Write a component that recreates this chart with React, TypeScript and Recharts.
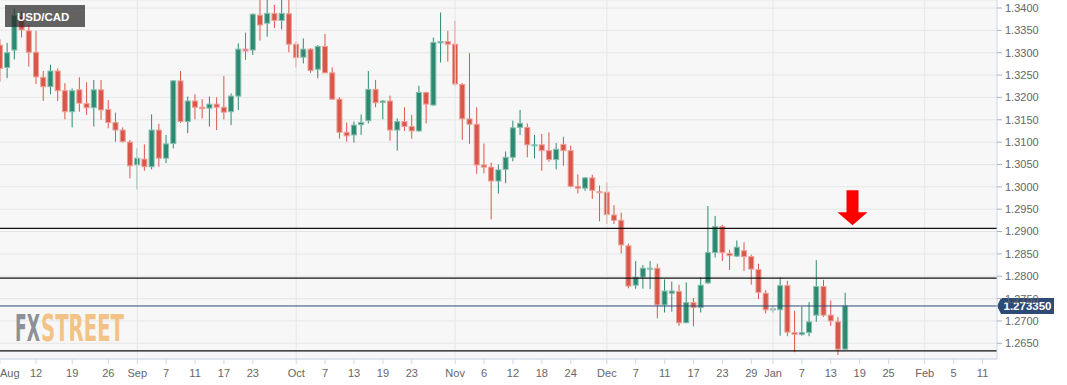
import React from 'react';
import {
  ComposedChart,
  Bar,
  XAxis,
  YAxis,
  CartesianGrid,
  ReferenceLine,
  ReferenceDot,
} from 'recharts';

document.body.style.margin = '0';

// trading days shown on the axis (weekdays, Aug 2020 - Feb 2021)
const augDays = [5, 6, 7, 10, 11, 12, 13, 14, 17, 18, 19, 20, 21, 24, 25, 26, 27, 28, 31];
const sepDays = [1, 2, 3, 4, 7, 8, 9, 10, 11, 14, 15, 16, 17, 18, 21, 22, 23, 24, 25, 28, 29, 30];
const octDays = [1, 2, 5, 6, 7, 8, 9, 12, 13, 14, 15, 16, 19, 20, 21, 22, 23, 26, 27, 28, 29, 30];
const novDays = [2, 3, 4, 5, 6, 9, 10, 11, 12, 13, 16, 17, 18, 19, 20, 23, 24, 25, 26, 27, 30];
const decDays = [1, 2, 3, 4, 7, 8, 9, 10, 11, 14, 15, 16, 17, 18, 21, 22, 23, 24, 25, 28, 29, 30, 31];
const janDays = [1, 4, 5, 6, 7, 8, 11, 12, 13, 14, 15, 18, 19, 20, 21, 22, 25, 26, 27, 28, 29];
const febDays = [1, 2, 3, 4, 5, 8, 9, 10, 11, 12, 15];

const tradingDays: string[] = [
  ...augDays.map((d) => `Aug ${d}`),
  ...sepDays.map((d) => `Sep ${d}`),
  ...octDays.map((d) => `Oct ${d}`),
  ...novDays.map((d) => `Nov ${d}`),
  ...decDays.map((d) => `Dec ${d}`),
  ...janDays.map((d) => `Jan ${d}`),
  ...febDays.map((d) => `Feb ${d}`),
];

// daily OHLC, Aug 5 .. Jan 15
const opens = [
  1.3317, 1.3267, 1.3306, 1.3381, 1.3349, 1.3301, 1.3245, 1.3224, 1.3259, 1.3215,
  1.3168, 1.3217, 1.3186, 1.3177, 1.3217, 1.3173, 1.3144, 1.3127, 1.3100, 1.3049,
  1.3062, 1.3045, 1.3127, 1.3064, 1.3097, 1.3237, 1.3146, 1.3192, 1.3178, 1.3176,
  1.3185, 1.3178, 1.3168, 1.3203, 1.3308, 1.3306, 1.3384, 1.3366, 1.3388, 1.3372,
  1.3387, 1.3319, 1.3290, 1.3308, 1.3263, 1.3314, 1.3255, 1.3196, 1.3122, 1.3116,
  1.3139, 1.3148, 1.3218, 1.3189, 1.3192, 1.3127, 1.3146, 1.3135, 1.3125, 1.3211,
  1.3183, 1.3322, 1.3325, 1.3319, 1.3229, 1.3152, 1.3140, 1.3049, 1.3044, 1.3013,
  1.3039, 1.3066, 1.3133, 1.3133, 1.3092, 1.3094, 1.3081, 1.3061, 1.3095, 1.3081,
  1.3001, 1.2997, 1.3020, 1.2989, 1.2988, 1.2937, 1.2925, 1.2868, 1.2780, 1.2798,
  1.2816, 1.2818, 1.2736, 1.2762, 1.2766, 1.2696, 1.2741, 1.2730, 1.2785, 1.2853,
  1.2911, 1.2851, 1.2845, 1.2857, 1.2844, 1.2815, 1.2762, 1.2725, 1.2725, 1.2779,
  1.2674, 1.2670, 1.2674, 1.2713, 1.2777, 1.2713, 1.2698, 1.2637,
];
const highs = [
  1.3330, 1.3322, 1.3399, 1.3392, 1.3362, 1.3349, 1.3259, 1.3273, 1.3265, 1.3232,
  1.3220, 1.3245, 1.3234, 1.3239, 1.3239, 1.3194, 1.3166, 1.3133, 1.3105, 1.3086,
  1.3095, 1.3162, 1.3141, 1.3116, 1.3239, 1.3259, 1.3202, 1.3207, 1.3196, 1.3202,
  1.3200, 1.3248, 1.3209, 1.3321, 1.3345, 1.3388, 1.3421, 1.3420, 1.3407, 1.3420,
  1.3420, 1.3325, 1.3332, 1.3310, 1.3317, 1.3342, 1.3267, 1.3200, 1.3144, 1.3146,
  1.3162, 1.3259, 1.3239, 1.3194, 1.3204, 1.3153, 1.3178, 1.3161, 1.3226, 1.3213,
  1.3334, 1.3390, 1.3349, 1.3371, 1.3232, 1.3299, 1.3178, 1.3097, 1.3054, 1.3050,
  1.3079, 1.3148, 1.3172, 1.3142, 1.3116, 1.3118, 1.3122, 1.3098, 1.3112, 1.3092,
  1.3028, 1.3022, 1.3027, 1.3003, 1.3010, 1.2959, 1.2942, 1.2873, 1.2834, 1.2825,
  1.2834, 1.2828, 1.2793, 1.2788, 1.2781, 1.2786, 1.2751, 1.2798, 1.2957, 1.2935,
  1.2915, 1.2859, 1.2880, 1.2876, 1.2848, 1.2828, 1.2769, 1.2734, 1.2797, 1.2790,
  1.2723, 1.2732, 1.2742, 1.2836, 1.2792, 1.2746, 1.2709, 1.2763,
];
const lows = [
  1.3235, 1.3243, 1.3285, 1.3334, 1.3269, 1.3230, 1.3192, 1.3207, 1.3192, 1.3151,
  1.3133, 1.3168, 1.3161, 1.3135, 1.3150, 1.3131, 1.3101, 1.3099, 1.3019, 1.2994,
  1.3036, 1.3039, 1.3045, 1.3053, 1.3086, 1.3143, 1.3120, 1.3151, 1.3153, 1.3135,
  1.3127, 1.3151, 1.3138, 1.3172, 1.3284, 1.3295, 1.3327, 1.3336, 1.3355, 1.3352,
  1.3301, 1.3267, 1.3276, 1.3255, 1.3243, 1.3254, 1.3195, 1.3108, 1.3101, 1.3099,
  1.3116, 1.3142, 1.3178, 1.3151, 1.3103, 1.3081, 1.3125, 1.3108, 1.3123, 1.3142,
  1.3181, 1.3278, 1.3280, 1.3226, 1.3105, 1.3096, 1.3029, 1.3030, 1.2927, 1.2985,
  1.3008, 1.3057, 1.3116, 1.3066, 1.3064, 1.3036, 1.3056, 1.3039, 1.3047, 1.2999,
  1.2985, 1.2991, 1.2973, 1.2923, 1.2917, 1.2917, 1.2851, 1.2773, 1.2772, 1.2772,
  1.2771, 1.2706, 1.2719, 1.2721, 1.2689, 1.2695, 1.2688, 1.2719, 1.2783, 1.2842,
  1.2834, 1.2814, 1.2843, 1.2812, 1.2781, 1.2749, 1.2717, 1.2719, 1.2667, 1.2666,
  1.2630, 1.2667, 1.2666, 1.2698, 1.2709, 1.2689, 1.2624, 1.2636,
];
const closes = [
  1.3265, 1.3300, 1.3383, 1.3351, 1.3301, 1.3246, 1.3224, 1.3259, 1.3215, 1.3168,
  1.3215, 1.3187, 1.3177, 1.3217, 1.3172, 1.3144, 1.3127, 1.3101, 1.3047, 1.3064,
  1.3045, 1.3127, 1.3064, 1.3096, 1.3237, 1.3146, 1.3192, 1.3178, 1.3175, 1.3185,
  1.3178, 1.3167, 1.3203, 1.3308, 1.3304, 1.3386, 1.3362, 1.3388, 1.3372, 1.3388,
  1.3319, 1.3289, 1.3308, 1.3260, 1.3314, 1.3255, 1.3196, 1.3122, 1.3114, 1.3138,
  1.3144, 1.3218, 1.3188, 1.3192, 1.3127, 1.3146, 1.3135, 1.3125, 1.3211, 1.3185,
  1.3323, 1.3325, 1.3319, 1.3230, 1.3152, 1.3140, 1.3049, 1.3044, 1.3013, 1.3038,
  1.3066, 1.3132, 1.3142, 1.3094, 1.3094, 1.3081, 1.3061, 1.3084, 1.3081, 1.3001,
  1.2997, 1.3020, 1.2992, 1.2987, 1.2938, 1.2925, 1.2870, 1.2778, 1.2798, 1.2818,
  1.2818, 1.2736, 1.2767, 1.2767, 1.2696, 1.2741, 1.2730, 1.2780, 1.2853, 1.2911,
  1.2853, 1.2846, 1.2865, 1.2844, 1.2816, 1.2764, 1.2725, 1.2727, 1.2779, 1.2675,
  1.2670, 1.2674, 1.2698, 1.2777, 1.2713, 1.2700, 1.2637, 1.27335,
];

const tickDates = [
  'Aug 5', 'Aug 12', 'Aug 19', 'Aug 26', 'Sep 1', 'Sep 7', 'Sep 11', 'Sep 17', 'Sep 23',
  'Oct 1', 'Oct 7', 'Oct 13', 'Oct 19', 'Oct 23', 'Nov 2', 'Nov 6', 'Nov 12', 'Nov 18',
  'Nov 24', 'Dec 1', 'Dec 7', 'Dec 11', 'Dec 17', 'Dec 23', 'Dec 29', 'Jan 1', 'Jan 7',
  'Jan 13', 'Jan 19', 'Jan 25', 'Feb 1', 'Feb 5', 'Feb 11',
];
const tickLabels = [
  'Aug', '12', '19', '26', 'Sep', '7', '11', '17', '23',
  'Oct', '7', '13', '19', '23', 'Nov', '6', '12', '18',
  '24', 'Dec', '7', '11', '17', '23', '29', 'Jan', '7',
  '13', '19', '25', 'Feb', '5', '11',
];
const monthStarts = ['Sep 1', 'Oct 1', 'Nov 2', 'Dec 1', 'Jan 1', 'Feb 1'];

const priceTicks = [
  1.265, 1.27, 1.275, 1.28, 1.285, 1.29, 1.295, 1.3, 1.305, 1.31, 1.315, 1.32, 1.325,
  1.33, 1.335, 1.34,
];
const levels = [1.2907, 1.2796, 1.2633];
const lastPrice = 1.27335;
const arrowDate = 'Jan 18';
const arrowPrice = 1.2914;

const idx = (d: string) => tradingDays.indexOf(d);
const tickIdx = tickDates.map(idx);

const data = opens.map((o, i) => ({
  i,
  open: o,
  high: highs[i],
  low: lows[i],
  close: closes[i],
  range: [lows[i], highs[i]],
}));

const RED = '#d9574a';
const GREEN = '#2c8a72';
const FONT = '"Liberation Sans", Arial, sans-serif';

const Candle = (props: any) => {
  const { x, y, width, height, payload } = props;
  if (!payload || payload.open == null || !isFinite(y)) return null;
  const { open, close, high, low } = payload;
  const top = Math.min(y, y + height);
  const h = Math.abs(height);
  const k = high > low ? h / (high - low) : 0;
  const cx = x + width / 2;
  const yO = top + (high - open) * k;
  const yC = top + (high - close) * k;
  const up = close >= open;
  const color = up ? GREEN : RED;
  const edge = up ? '#86bfae' : '#eca197';
  const bTop = Math.min(yO, yC);
  const bH = Math.max(1, Math.abs(yO - yC));
  return (
    <g>
      <line x1={cx} x2={cx} y1={top} y2={top + h} stroke={color} strokeWidth={1} />
      <rect x={cx - 2.5} y={bTop} width={5} height={bH} fill={color} stroke={edge} strokeWidth={1} />
    </g>
  );
};

const XTick = (props: any) => {
  const { x, y, payload } = props;
  const k = tickIdx.indexOf(payload.value);
  const first = k === 0;
  return (
    <text
      x={first ? 0 : x}
      y={y}
      dy={11}
      textAnchor={first ? 'start' : 'middle'}
      fill="#666"
      fontSize={11}
      fontFamily={FONT}
    >
      {tickLabels[k]}
    </text>
  );
};

const PriceTag = (props: any) => {
  const vb = props.viewBox;
  if (!vb) return null;
  const x = vb.x + vb.width;
  const y = vb.y;
  return (
    <g>
      <path
        d={`M${x} ${y} L${x + 4} ${y - 8} L${x + 57} ${y - 8} L${x + 57} ${y + 8} L${x + 4} ${y + 8} Z`}
        fill="#2e4b76"
      />
      <text
        x={x + 30.5}
        y={y + 4}
        textAnchor="middle"
        fill="#fff"
        fontSize={11.5}
        fontWeight="bold"
        fontFamily={FONT}
      >
        {lastPrice.toFixed(6)}
      </text>
    </g>
  );
};

const Arrow = (props: any) => {
  const { cx, cy } = props;
  if (cx == null || cy == null) return null;
  return (
    <path
      d={`M${cx} ${cy} L${cx - 15} ${cy - 13} L${cx - 6} ${cy - 13} L${cx - 6} ${cy - 35} L${cx + 6} ${cy - 35} L${cx + 6} ${cy - 13} L${cx + 15} ${cy - 13} Z`}
      fill="#ff0000"
    />
  );
};

export default function App() {
  return (
    <div style={{ position: 'relative', width: 1067, height: 385, background: '#fff' }}>
      <ComposedChart
        width={1067}
        height={385}
        data={data}
        margin={{ top: 0, right: 0, bottom: 0, left: 0 }}
      >
        <CartesianGrid vertical={false} stroke="#e6e6e6" fill="#f7f7f7" />
        <XAxis
          dataKey="i"
          type="number"
          domain={[0, tradingDays.length - 1]}
          ticks={tickIdx}
          interval={0}
          allowDataOverflow
          height={26}
          tickSize={5}
          tickMargin={2}
          tick={<XTick />}
          tickLine={{ stroke: '#ccd6eb' }}
          axisLine={{ stroke: '#ccd6eb' }}
        />
        <XAxis
          xAxisId="top"
          dataKey="i"
          type="number"
          orientation="top"
          domain={[0, tradingDays.length - 1]}
          height={0}
          tick={false}
          tickLine={false}
          axisLine={{ stroke: '#ccd6eb' }}
        />
        <YAxis
          orientation="right"
          width={70}
          domain={[1.26149, 1.34179]}
          ticks={priceTicks}
          interval={0}
          allowDataOverflow
          tickFormatter={(v: number) => v.toFixed(4)}
          tick={{ fill: '#666', fontSize: 11, fontFamily: FONT }}
          tickSize={5}
          tickMargin={3}
          tickLine={{ stroke: '#b0b0b0' }}
          axisLine={{ stroke: '#ccd6eb' }}
        />
        <YAxis
          yAxisId="left"
          orientation="left"
          width={0}
          domain={[1.26149, 1.34179]}
          tick={false}
          tickLine={false}
          axisLine={{ stroke: '#ccd6eb' }}
        />
        {monthStarts.map((d) => (
          <ReferenceLine key={d} x={idx(d)} stroke="#e6e6e6" strokeWidth={1} />
        ))}
        <Bar dataKey="range" barSize={5} shape={<Candle />} isAnimationActive={false} />
        {levels.map((v) => (
          <ReferenceLine key={v} y={v} stroke="#111" strokeWidth={1.3} />
        ))}
        <ReferenceLine y={lastPrice} stroke="#2e4b76" strokeWidth={1} label={<PriceTag />} />
        <ReferenceDot x={idx(arrowDate)} y={arrowPrice} shape={<Arrow />} />
      </ComposedChart>
      <svg
        width={1067}
        height={385}
        style={{ position: 'absolute', left: 0, top: 0, pointerEvents: 'none' }}
      >
        <rect x={5} y={5} width={80} height={22} fill="rgba(40,40,40,0.72)" />
        <text x={17} y={20.5} fill="#fff" fontSize={11.5} fontWeight="bold" fontFamily={FONT}>
          USD/CAD
        </text>
        <text
          x={15}
          y={340.5}
          fontSize={37}
          fontWeight="bold"
          fontFamily='"Liberation Sans Narrow", "DejaVu Sans Condensed", sans-serif'
          fill="#8d9097"
          textLength={25}
          lengthAdjust="spacingAndGlyphs"
        >
          FX
        </text>
        <text
          x={41}
          y={340.5}
          fontSize={37}
          fontWeight="bold"
          fontFamily='"Liberation Sans Narrow", "DejaVu Sans Condensed", sans-serif'
          fill="#f3c287"
          textLength={83}
          lengthAdjust="spacingAndGlyphs"
        >
          STREET
        </text>
      </svg>
    </div>
  );
}
